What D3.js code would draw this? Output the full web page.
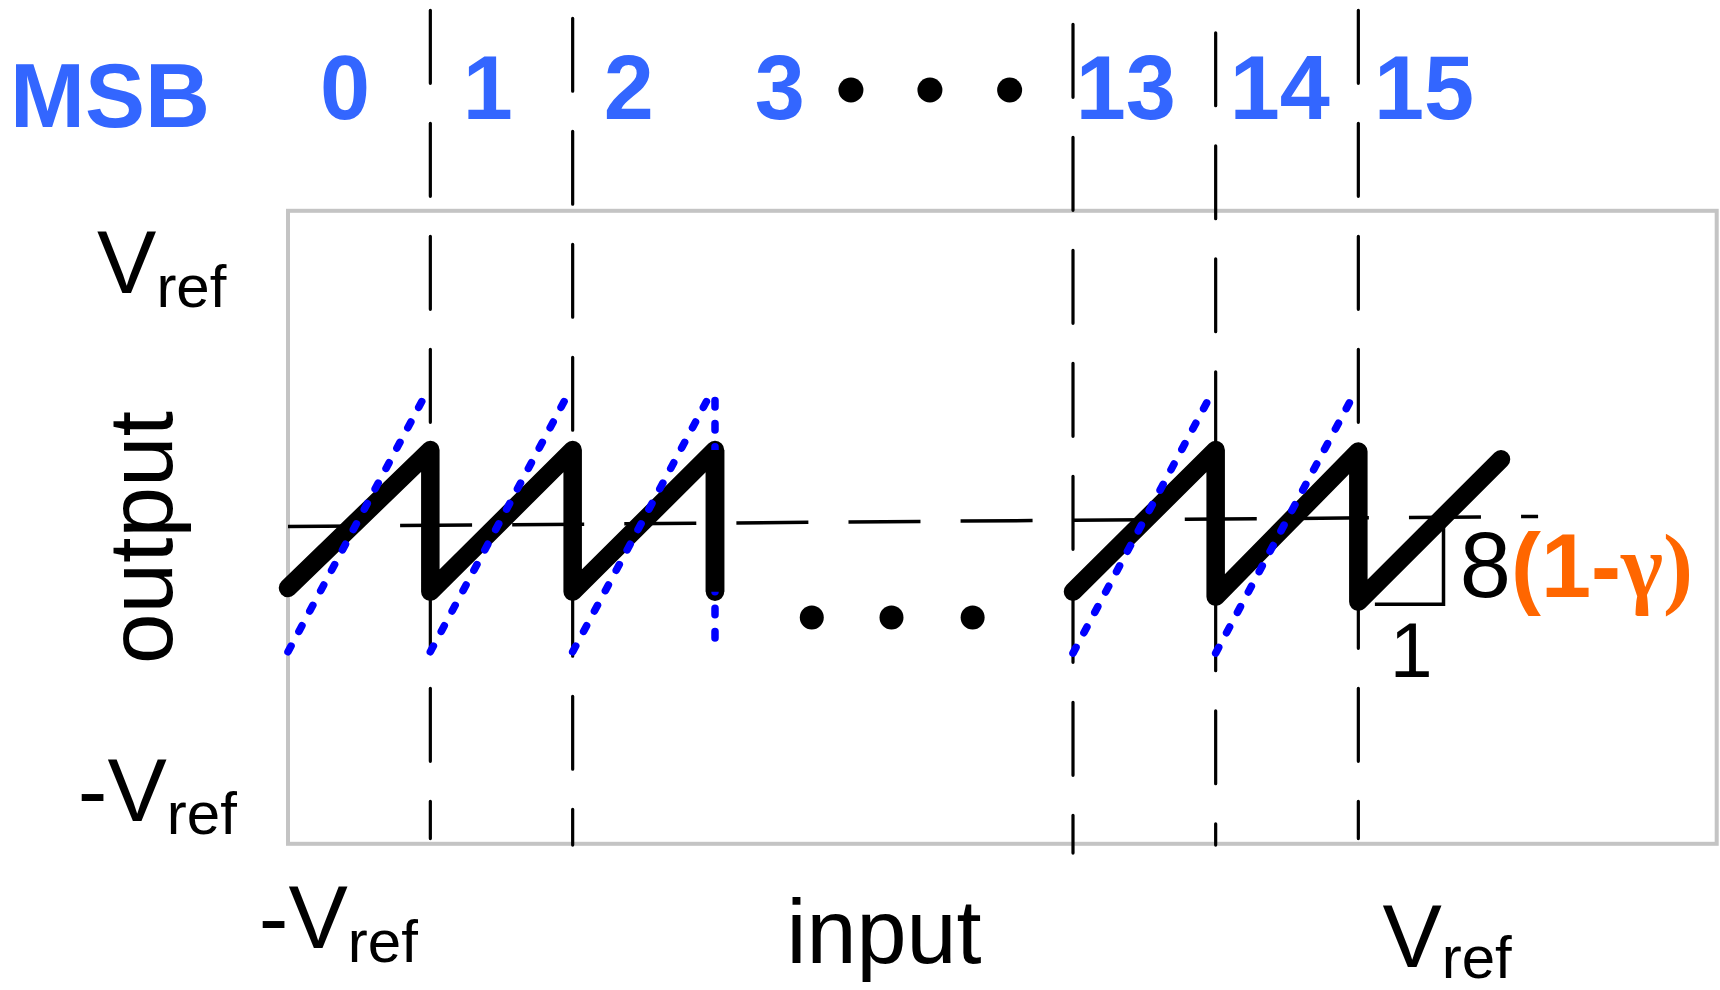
<!DOCTYPE html>
<html>
<head>
<meta charset="utf-8">
<script src="https://cdn.jsdelivr.net/npm/d3@7"></script>
<style>
  html, body { margin: 0; padding: 0; background: #ffffff; }
  svg { display: block; }
</style>
</head>
<body>
<script>
// ---------- data ----------
// Input axis in MSB segments (segments 3..12 are collapsed into the "..." gap)
const msbLabels = ["0", "1", "2", "3", "13", "14", "15"];
const msbLabelX = [0.4, 1.404, 2.395, 3.455, 13.37, 14.45, 15.46];
const headerDotsX = [3.955, 4.51, 5.07];
const gapDotsX = [3.68, 4.24, 4.81];
const gapDotsY = -0.342;

// Segment boundaries drawn as dashed dividers, with their vertical extent (output units)
const dividerX = [1, 2, 13, 14, 15];
const dividerTop = [1.96, 1.93, 1.907, 1.875, 1.96];
const dividerBottom = [-1.18, -1.205, -1.235, -1.205, -1.18];

// Zero-output reference (dashed)
const midlineX = [0, 16.26];
const midlineY = [0.003, 0.041];

// Actual residue transfer (thick black), [input, output]
const actualLeft = [[0, -0.23], [1, 0.293], [1, -0.244], [2, 0.293], [2, -0.244], [3, 0.293], [3, -0.244]];
const actualRight = [[13, -0.244], [14, 0.293], [14, -0.263], [15, 0.287], [15, -0.282], [16, 0.258]];
const actualDrop3 = [[3, 0.293], [3, -0.244]];

// Ideal residue ramps (blue dotted)
const idealRamp0 = [[0, -0.472], [0.965, 0.502]];
const idealRamp1 = [[1, -0.472], [1.965, 0.502]];
const idealRamp2 = [[2, -0.472], [2.965, 0.502], [3, 0.495], [3, -0.44]];
const idealRamp13 = [[13, -0.477], [13.96, 0.495]];
const idealRamp14 = [[14, -0.477], [14.96, 0.495]];

// Slope triangle on the last segment
const slopeTriangle = [[15.116, -0.292], [15.597, -0.292], [15.597, 0.009]];
const slopeRunLabel = { text: "1", x: 15.22, y: -0.568 };
const slopeRiseLabel = { text: "8", x: 15.71, y: -0.263 };
const slopeGainLabel = { x: 16.07, y: -0.263 };

// Output tick labels
const yTickValues = [1, -1];
const yTickSigns = ["", "-"];

// ---------- layout ----------
const W = 1720, H = 990;
const blueText = "#3366ff";
const orange = "#ff6600";
const font = "'Liberation Sans', Arial, Helvetica, sans-serif";
const blackWidth = 18.5;

const xLeft = d3.scaleLinear().domain([0, 3]).range([288, 715]);
const xRight = d3.scaleLinear().domain([13, 16]).range([1073, 1501]);
const x = v => (v < 8 ? xLeft(v) : xRight(v));
const y = d3.scaleLinear().domain([-1.2, 1.2]).range([843.8, 210.8]);

const svg = d3.select("body").append("svg")
  .attr("width", W).attr("height", H)
  .attr("viewBox", `0 0 ${W} ${H}`);

const line = d3.line().x(d => x(d[0])).y(d => y(d[1]));

// Plot frame
svg.append("rect")
  .attr("x", x(0)).attr("y", y(1.2))
  .attr("width", 1716.7 - x(0)).attr("height", y(-1.2) - y(1.2))
  .attr("fill", "none").attr("stroke", "#c4c4c4").attr("stroke-width", 4);

// Dashed segment dividers
svg.append("g").selectAll("line").data(dividerX).join("line")
  .attr("x1", d => x(d)).attr("x2", d => x(d))
  .attr("y1", (d, i) => y(dividerTop[i])).attr("y2", (d, i) => y(dividerBottom[i]))
  .attr("stroke", "#000").attr("stroke-width", 3.2)
  .attr("stroke-dasharray", "73 40").attr("stroke-linecap", "round");

// Zero reference
svg.append("line")
  .attr("x1", x(midlineX[0])).attr("y1", y(midlineY[0]))
  .attr("x2", x(midlineX[1])).attr("y2", y(midlineY[1]))
  .attr("stroke", "#000").attr("stroke-width", 3.5)
  .attr("stroke-dasharray", "72 40.1");

// Actual transfer curve
const drawActual = pts => svg.append("path").attr("d", line(pts))
  .attr("fill", "none").attr("stroke", "#000").attr("stroke-width", blackWidth)
  .attr("stroke-linejoin", "round").attr("stroke-linecap", "round");
[actualLeft, actualRight].forEach(drawActual);

// Ideal ramps
[idealRamp0, idealRamp1, idealRamp2, idealRamp13, idealRamp14].forEach(pts => {
  svg.append("path").attr("d", line(pts))
    .attr("fill", "none").attr("stroke", "#0000ff").attr("stroke-width", 7.5)
    .attr("stroke-dasharray", "6.5 16.6")
    .attr("stroke-linejoin", "round").attr("stroke-linecap", "round");
});

// The last drawn drop sits over the ideal ramp's vertical edge
drawActual(actualDrop3).attr("stroke-linecap", "butt");

// Slope triangle
svg.append("path").attr("d", line(slopeTriangle))
  .attr("fill", "none").attr("stroke", "#000").attr("stroke-width", 3.5)
  .attr("stroke-linejoin", "miter");

svg.append("text")
  .attr("x", x(slopeRunLabel.x)).attr("y", y(slopeRunLabel.y))
  .attr("font-family", font).attr("font-size", 77).attr("fill", "#000")
  .text(slopeRunLabel.text);

svg.append("text")
  .attr("x", x(slopeRiseLabel.x)).attr("y", y(slopeRiseLabel.y))
  .attr("font-family", font).attr("font-size", 92).attr("fill", "#000")
  .text(slopeRiseLabel.text);

const gain = svg.append("text")
  .attr("x", x(slopeGainLabel.x)).attr("y", y(slopeGainLabel.y))
  .attr("font-size", 90).attr("font-weight", "bold").attr("fill", orange);
gain.append("tspan").attr("font-family", font).text("(1-");
gain.append("tspan").attr("font-family", "'Liberation Serif', 'DejaVu Serif', serif").text("γ)");

// Ellipsis dots for the collapsed segments
svg.append("g").selectAll("circle").data(gapDotsX).join("circle")
  .attr("cx", d => x(d)).attr("cy", y(gapDotsY)).attr("r", 12).attr("fill", "#000");

// Header: MSB codes
svg.append("text")
  .attr("x", 10).attr("y", 126.7)
  .attr("font-family", font).attr("font-size", 90).attr("font-weight", "bold")
  .attr("fill", blueText).text("MSB");

svg.append("g").selectAll("text").data(msbLabels).join("text")
  .attr("x", (d, i) => x(msbLabelX[i])).attr("y", 118.5)
  .attr("text-anchor", "middle")
  .attr("font-family", font).attr("font-size", 90).attr("font-weight", "bold")
  .attr("fill", blueText).text(d => d);

svg.append("g").selectAll("circle").data(headerDotsX).join("circle")
  .attr("cx", d => x(d)).attr("cy", 90).attr("r", 12.5).attr("fill", "#000");

// Output axis labels
const yLabelX = [97, 77.8];
yTickValues.forEach((v, i) => {
  const t = svg.append("text")
    .attr("x", yLabelX[i]).attr("y", y(v) + 29.5)
    .attr("font-family", font).attr("fill", "#000");
  t.append("tspan").attr("font-size", 89).text(yTickSigns[i] + "V");
  t.append("tspan").attr("font-size", 60).attr("dy", 13.5).text("ref");
});

svg.append("text")
  .attr("transform", "translate(171.7,537.5) rotate(-90)")
  .attr("text-anchor", "middle")
  .attr("font-family", font).attr("font-size", 91).attr("fill", "#000")
  .text("output");

// Input axis labels
const xLabels = [
  { sign: "-", x: 258.8, y: 948.3, sub: 13.5 },
  { sign: "", x: 1382.4, y: 966.5, sub: 11.5 }
];
xLabels.forEach(l => {
  const t = svg.append("text")
    .attr("x", l.x).attr("y", l.y)
    .attr("font-family", font).attr("fill", "#000");
  t.append("tspan").attr("font-size", 89).text(l.sign + "V");
  t.append("tspan").attr("font-size", 60).attr("dy", l.sub).text("ref");
});

svg.append("text")
  .attr("x", 786.4).attr("y", 963)
  .attr("font-family", font).attr("font-size", 90).attr("fill", "#000")
  .text("input");
</script>
</body>
</html>
